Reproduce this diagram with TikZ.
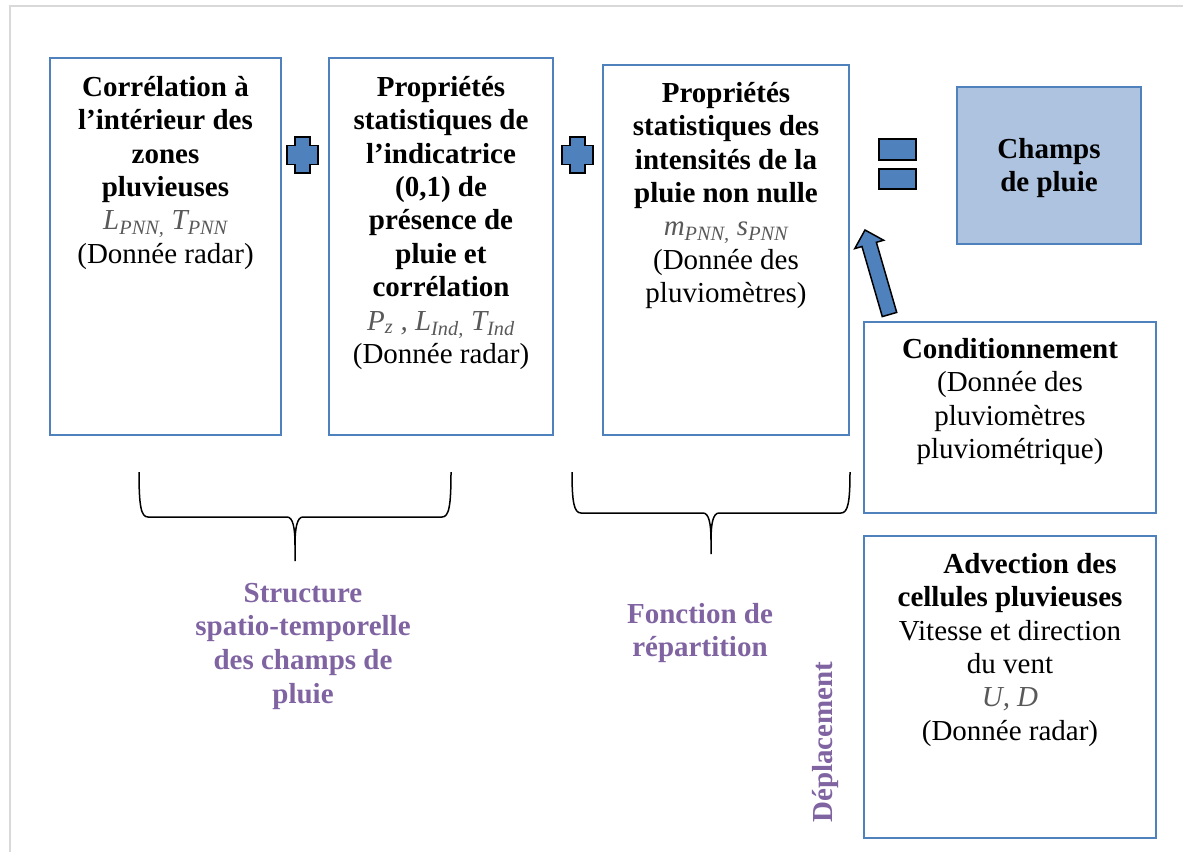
\documentclass[tikz,border=0pt]{standalone}
\usepackage{fontspec}
\setmainfont{Liberation Serif}
\usetikzlibrary{calc}
\definecolor{boxblue}{HTML}{4F81BD}
\definecolor{lightfill}{HTML}{ADC3E0}
\definecolor{purp}{HTML}{8064A2}
\definecolor{pgray}{HTML}{595959}
\definecolor{framegray}{HTML}{D9D9D9}
\begin{document}
\begin{tikzpicture}[x=1pt,y=-1pt,
  box/.style={draw=boxblue, line width=1.5pt, inner sep=0pt, outer sep=0pt, anchor=north west},
  txt/.style={inner sep=0pt, align=center, font=\fontsize{29}{33.4}\selectfont, anchor=north},
  ptxt/.style={txt, text=purp, font=\fontsize{29}{33.6}\selectfont\bfseries},
  brace/.style={draw=black, line width=1.5pt},
  opfill/.style={draw=black, line width=1.5pt, fill=boxblue},
  plussign/.pic={\draw[opfill] (-7.5,-18) -- (7.5,-18) -- (7.5,-9.5) -- (15.5,-9.5) -- (15.5,9.5) -- (7.5,9.5) -- (7.5,18) -- (-7.5,18) -- (-7.5,9.5) -- (-15.5,9.5) -- (-15.5,-9.5) -- (-7.5,-9.5) -- cycle;}
]
\useasboundingbox (0,0) rectangle (1183,852);
\draw[framegray, line width=2pt] (10,852) -- (10,6) -- (1183,6);

% boxes
\node[box, minimum width=231pt, minimum height=377pt] (b1) at (50,58) {};
\node[box, minimum width=224pt, minimum height=377pt] (b2) at (329,58) {};
\node[box, minimum width=246pt, minimum height=370pt] (b3) at (603,65) {};
\node[box, fill=lightfill, minimum width=184pt, minimum height=157pt] (champs) at (957,87) {};
\node[box, minimum width=292pt, minimum height=191pt] (cond) at (864,322) {};
\node[box, minimum width=292pt, minimum height=302pt] (adv) at (864,536) {};

% texts
\node[txt] (t1) at ($(b1.north)+(0,16)$) {\rule{0pt}{22pt}\textbf{Corrélation à}\\
\textbf{l’intérieur des}\\ \textbf{zones}\\ \textbf{pluvieuses}\\
{\color{pgray}\itshape L\textsubscript{PNN,} T\textsubscript{PNN}}\hspace*{74pt}\\
(Donnée radar)};
\node[txt] (t2) at ($(b2.north)+(0,16)$) {\rule{0pt}{22pt}\textbf{Propriétés}\\
\textbf{statistiques de}\\ \textbf{l’indicatrice}\\ \textbf{(0,1) de}\\
\textbf{présence de}\\ \textbf{pluie et}\\ \textbf{corrélation}\\
{\color{pgray}\itshape P\textsubscript{z} , L\textsubscript{Ind,} T\textsubscript{Ind}}\\
(Donnée radar)};
\node[txt] (t3) at ($(b3.north)+(0,15)$) {\rule{0pt}{22pt}\textbf{Propriétés}\\
\textbf{statistiques des}\\ \textbf{intensités de la}\\ \textbf{pluie non nulle}\\
{\color{pgray}\itshape m\textsubscript{PNN,} s\textsubscript{PNN}}\\
(Donnée des\\ pluviomètres)};
\node[txt] (tc) at ($(champs.north)+(0,49)$) {\rule{0pt}{22pt}\textbf{Champs}\\ \textbf{de pluie}};
\node[txt] (tcond) at ($(cond.north)+(0,14)$) {\rule{0pt}{22pt}\textbf{Conditionnement}\\
(Donnée des\\ pluviomètres\\ pluviométrique)};
\node[txt] (tadv) at ($(adv.north)+(0,15)$) {\rule{0pt}{22pt}\hspace*{40pt}\textbf{Advection des}\\
\textbf{cellules pluvieuses}\\ Vitesse et direction\\ du vent\\
{\color{pgray}\itshape U, D}\\ (Donnée radar)};

% operators
\pic (plusA) at (302.5,155) {plussign};
\pic (plusB) at (577.5,155) {plussign};
\node[opfill, inner sep=0pt, minimum width=37pt, minimum height=21pt, anchor=north west] (eqA) at (878,138) {};
\node[opfill, inner sep=0pt, minimum width=37pt, minimum height=20pt, anchor=north west] (eqB) at (878,168) {};

% block arrow
\coordinate (atip) at (865,230);
\coordinate (atail) at (889.5,314.5);
\coordinate (hb) at ($(atip)!15pt!(atail)$);
\draw[opfill, line join=miter]
  (atip) -- ($(hb)!15pt!90:(atail)$) -- ($(hb)!7.5pt!90:(atail)$)
  -- ($(atail)!7.5pt!-90:(atip)$) -- ($(atail)!7.5pt!90:(atip)$)
  -- ($(hb)!7.5pt!-90:(atail)$) -- ($(hb)!15pt!-90:(atail)$) -- cycle;

% braces
\draw[brace] (139,472) .. controls (139,506) and (141,517) .. (148,517) -- (287,517)
  .. controls (293,517) and (295,528) .. (295,545) -- (295,561);
\draw[brace] (451,472) .. controls (451,506) and (449,517) .. (442,517) -- (303,517)
  .. controls (297,517) and (295,528) .. (295,545);
\draw[brace] (572,472) .. controls (572,502) and (574,513) .. (581,513) -- (703,513)
  .. controls (709,513) and (711,524) .. (711,540) -- (711,554);
\draw[brace] (850,472) .. controls (850,502) and (848,513) .. (841,513) -- (719,513)
  .. controls (713,513) and (711,524) .. (711,540);

% purple labels
\node[ptxt] (lstruct) at (303,580) {\rule{0pt}{22pt}Structure\\ spatio-temporelle\\ des champs de\\ pluie};
\node[ptxt] (lfonc) at (700,601) {\rule{0pt}{22pt}Fonction de\\ répartition};
\node[ptxt, anchor=center, rotate=90] (ldep) at (826,742) {Déplacement};
\end{tikzpicture}
\end{document}
